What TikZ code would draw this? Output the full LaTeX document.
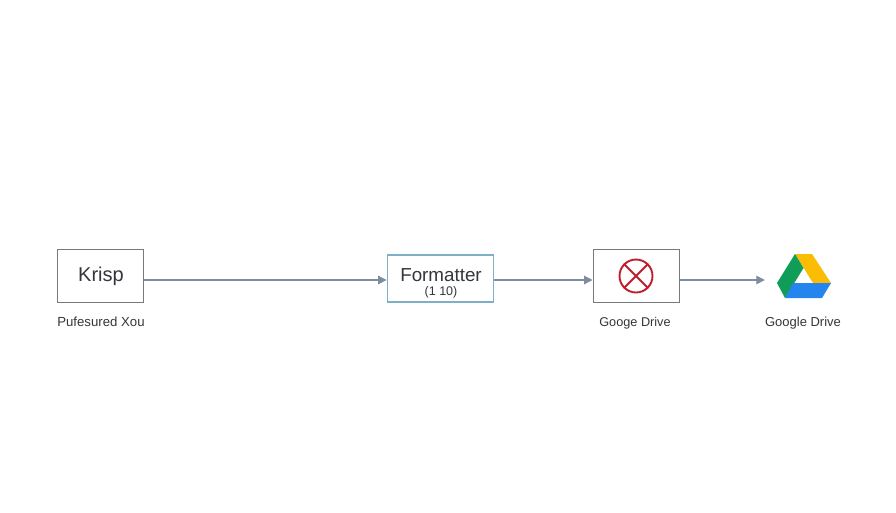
\documentclass[tikz,border=0pt]{standalone}
\usepackage{fontspec}
\setmainfont{Liberation Sans}
\usetikzlibrary{arrows.meta}
\definecolor{boxgrey}{HTML}{77797C}
\definecolor{fmtblue}{HTML}{7FAFC6}
\definecolor{flow}{HTML}{7D8CA0}
\definecolor{txt}{HTML}{33363A}
\definecolor{crossred}{HTML}{BE1E2D}
\definecolor{gdyellow}{HTML}{FBBC04}
\definecolor{gdgreen}{HTML}{0F9D58}
\definecolor{gdblue}{HTML}{2684EE}
\tikzset{
  plainbox/.style={draw=boxgrey,line width=1pt,fill=white,inner sep=0pt},
  fmtbox/.style={draw=fmtblue,line width=1.4pt,fill=white,inner sep=0pt},
  flowline/.style={draw=flow,line width=1.3pt,-{Triangle[length=8.5pt,width=8.5pt,fill=flow]}},
  caption/.style={text=txt,inner sep=0pt,anchor=base},
  title/.style={text=txt,inner sep=0pt}
}
\begin{document}
\begin{tikzpicture}[x=1pt,y=-1pt]
\useasboundingbox[fill=white] (0,0) rectangle (896,512);
\coordinate (row) at (0,280);
\node[plainbox,minimum width=86.5pt,minimum height=53pt] (krisp) at (100.5,275.5) {};
\node[title,font=\fontsize{20}{22}\selectfont] (krispt) at (101,276) {Krisp};
\node[caption,font=\fontsize{13.2}{15}\selectfont] (krispc) at (101,326) {Pufesured Xou};
\node[fmtbox,minimum width=106.5pt,minimum height=47pt] (fmt) at (440.5,278.5) {};
\node[title,font=\fontsize{18.8}{21}\selectfont] (fmtt) at (441,275) {Formatter};
\node[title,font=\fontsize{12.5}{14}\selectfont] (fmtv) at (441,292) {(1 10)};
\node[plainbox,minimum width=86pt,minimum height=53pt] (xbox) at (636,275.5) {};
\node[circle,draw=crossred,line width=1.9pt,minimum size=33pt,inner sep=0pt] (xmark) at (636,276) {};
\draw[crossred,line width=1.9pt] (xmark.north west) -- (xmark.south east) (xmark.north east) -- (xmark.south west);
\node[caption,font=\fontsize{12.7}{15}\selectfont] (xc) at (635,326) {Googe Drive};
\node[inner sep=0pt,minimum width=78pt,minimum height=50pt] (logo) at (804,276) {};
\fill[gdyellow] (795,254) -- (812,254) -- (831,283) -- (813,283) -- cycle;
\fill[gdgreen] (795,254) -- (803.5,268) -- (785,298) -- (777,283) -- cycle;
\fill[gdblue] (793,283) -- (831,283) -- (822,298) -- (785,298) -- cycle;
\node[caption,font=\fontsize{13}{15}\selectfont] (logoc) at (803,326) {Google Drive};
\draw[flowline] (krisp.east |- row) -- (fmt.west |- row);
\draw[flowline] (fmt.east |- row) -- (xbox.west |- row);
\draw[flowline] (xbox.east |- row) -- (logo.west |- row);
\end{tikzpicture}
\end{document}
